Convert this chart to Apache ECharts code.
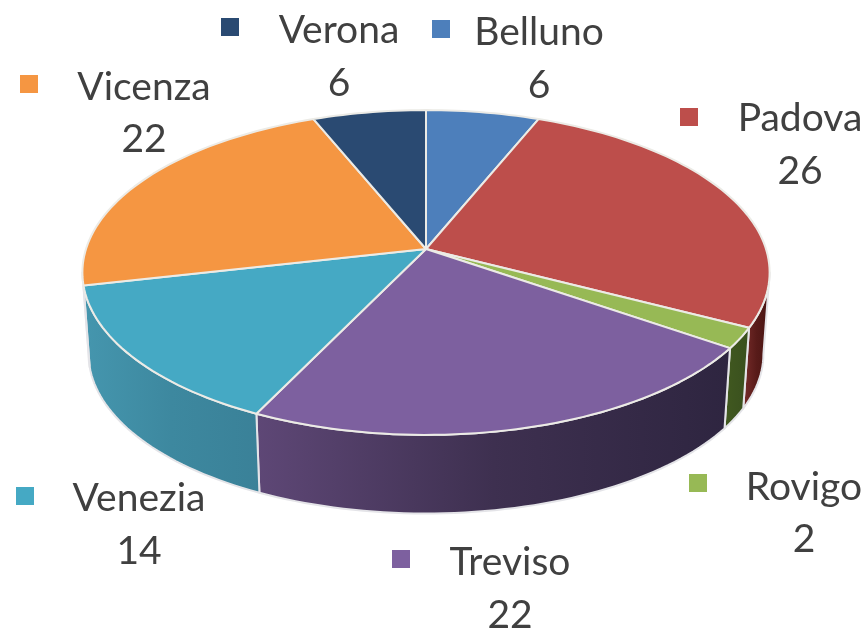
<!DOCTYPE html>
<html>
<head>
<meta charset="utf-8">
<script src="https://cdn.jsdelivr.net/npm/echarts@6/dist/echarts.min.js"></script>
<style>html,body{margin:0;padding:0;background:#fff}#c{width:865px;height:629px}</style>
</head>
<body>
<div id="c"></div>
<script>
// Data
const names = ['Belluno', 'Padova', 'Rovigo', 'Treviso', 'Venezia', 'Vicenza', 'Verona'];
const values = [6, 26, 2, 22, 14, 22, 6];

// Styles
const topColors = ['#4d7fbb', '#bd4e4b', '#97b955', '#7d609f', '#45a9c4', '#f59642', '#2a4a72'];
const wallStart = ['#3f6897', '#772c2a', '#41591f', '#5e4776', '#4596ae', '#b96f30', '#1f3a5a'];
const wallMid = ['#3f6897', '#581b19', '#3d541f', '#3e3050', '#3d889f', '#b96f30', '#1f3a5a'];
const wallEnd = ['#3f6897', '#481412', '#39501d', '#2e2540', '#3a8198', '#b96f30', '#1f3a5a'];

// Label layout: centre x, name y, value y, key x, key y
const labelLayout = [
  [539, 32, 85, 432, 20],
  [800, 118, 171, 680, 108],
  [804, 487, 539, 689, 474],
  [510, 562, 615, 392, 550],
  [139, 498, 551, 16, 487],
  [144, 87, 139, 20, 75],
  [339, 30, 83, 221, 18]
];

// Perspective projection of the pie disc
const CX = 426, TOP_Y = 249, BOTTOM_Y = 331;
const RX = 340, RY = 159, PERSP = 0.1446, LOWER_SCALE = 0.982;
const total = values.reduce((a, b) => a + b, 0);
const rad = Math.PI / 180;
function project(theta, level, r) {
  const X = Math.sin(theta) * r, Y = Math.cos(theta) * r;
  const d = 1 + PERSP * Y;
  const s = level ? LOWER_SCALE : 1;
  return [CX + s * RX * X / d, (level ? BOTTOM_Y : TOP_Y) - s * RY * Y / d];
}
function arc(a, b, level) {
  const n = Math.max(2, Math.ceil(Math.abs(b - a) / (rad * 1.5)));
  const pts = [];
  for (let i = 0; i <= n; i++) pts.push(project(a + (b - a) * i / n, level, 1));
  return pts;
}
const wallFrom = Math.acos(-PERSP), wallTo = 2 * Math.PI - wallFrom;

function renderItem(params, api) {
  const i = params.dataIndex;
  let before = 0;
  for (let k = 0; k < i; k++) before += values[k];
  const a = before / total * 2 * Math.PI;
  const b = a + api.value(0) / total * 2 * Math.PI;
  const children = [];
  const wa = Math.max(a, wallFrom), wb = Math.min(b, wallTo);
  if (wb > wa) {
    const up = arc(wa, wb, 0), low = arc(wa, wb, 1).reverse();
    const xs = up.concat(low).map(p => p[0]);
    const x0 = Math.min.apply(null, xs), x1 = Math.max.apply(null, xs);
    children.push({
      type: 'polygon', z2: 1,
      shape: { points: up.concat(low) },
      style: {
        fill: new echarts.graphic.LinearGradient(x0, 0, x1, 0, [
          { offset: 0, color: wallStart[i] },
          { offset: 0.5, color: wallMid[i] },
          { offset: 1, color: wallEnd[i] }
        ], true),
        stroke: '#e4e4e8', lineWidth: 2, lineJoin: 'round'
      }
    });
  }
  children.push({
    type: 'polygon', z2: 2,
    shape: { points: [[CX, TOP_Y]].concat(arc(a, b, 0)) },
    style: { fill: topColors[i], stroke: '#ecebe6', lineWidth: 2, lineJoin: 'round' }
  });
  const L = labelLayout[i];
  const font = '39px Lato, "Open Sans", sans-serif';
  children.push({
    type: 'rect', z2: 3,
    shape: { x: L[3], y: L[4], width: 18, height: 18 },
    style: { fill: topColors[i] }
  });
  children.push({
    type: 'text', z2: 3,
    style: { x: L[0], y: L[1], text: names[i], font: font, fill: '#404040', align: 'center', verticalAlign: 'middle' }
  });
  children.push({
    type: 'text', z2: 3,
    style: { x: L[0], y: L[2], text: String(api.value(0)), font: font, fill: '#404040', align: 'center', verticalAlign: 'middle' }
  });
  return { type: 'group', children: children };
}

const chart = echarts.init(document.getElementById('c'), null, { renderer: 'canvas' });
chart.setOption({
  animation: false,
  backgroundColor: '#ffffff',
  series: [{
    type: 'custom',
    coordinateSystem: 'none',
    silent: true,
    clip: false,
    renderItem: renderItem,
    data: values.map((v, i) => ({ name: names[i], value: [v] }))
  }]
});
</script>
</body>
</html>
